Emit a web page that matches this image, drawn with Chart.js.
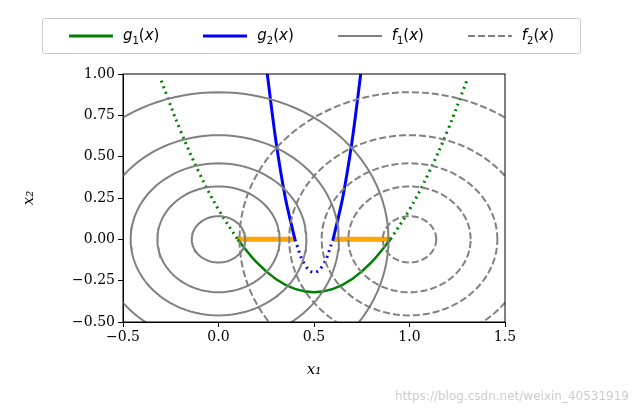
<!DOCTYPE html>
<html><head><meta charset="utf-8">
<script src="https://cdn.jsdelivr.net/npm/chart.js@4/dist/chart.umd.min.js"></script>
<style>
body{margin:0;background:#fff;width:637px;height:409px;position:relative;overflow:hidden}
#leg{position:absolute;left:42px;top:18px;width:539px;height:36px;border:1px solid #ccc;border-radius:3px;box-sizing:border-box;font-family:"DejaVu Sans";font-size:15px;display:flex;align-items:center;justify-content:space-around;padding:0 4px}
#leg>span{display:flex;align-items:center;gap:10px}
#leg sub{font-size:10px}
#wm{position:absolute;right:8px;bottom:6px;font-family:"DejaVu Sans";font-size:12px;color:#ccc}
</style></head><body>
<canvas id="c" width="637" height="409"></canvas>
<div id="leg">
<span><svg width="44" height="6"><line x1="0" y1="3" x2="44" y2="3" stroke="#008000" stroke-width="3"/></svg><span><i>g</i><sub>1</sub>(<i>x</i>)</span></span>
<span><svg width="44" height="6"><line x1="0" y1="3" x2="44" y2="3" stroke="#0000ff" stroke-width="3"/></svg><span><i>g</i><sub>2</sub>(<i>x</i>)</span></span>
<span><svg width="44" height="6"><line x1="0" y1="3" x2="44" y2="3" stroke="#808080" stroke-width="2"/></svg><span><i>f</i><sub>1</sub>(<i>x</i>)</span></span>
<span><svg width="44" height="6"><line x1="0" y1="3" x2="44" y2="3" stroke="#808080" stroke-width="2" stroke-dasharray="7,3"/></svg><span><i>f</i><sub>2</sub>(<i>x</i>)</span></span>
</div>
<div id="wm">https://blog.csdn.net/weixin_40531919</div>
<script>
const xTicks=[-0.5,0,0.5,1,1.5];
const yTicks=[-0.5,-0.25,0,0.25,0.5,0.75,1.0];
const contourRadii=[0.14,0.32,0.46,0.63,0.89];
const f1Center=[0,0], f2Center=[1,0];
const g1DotLeftX=[-0.3,-0.2,-0.1,0,0.1], g1DotLeftY=[0.96,0.66,0.40,0.18,0];
const g1SolidX=[0.1,0.2,0.3,0.4,0.5,0.6,0.7,0.8,0.9], g1SolidY=[0,-0.14,-0.24,-0.30,-0.32,-0.30,-0.24,-0.14,0];
const g1DotRightX=[0.9,1.0,1.1,1.2,1.3], g1DotRightY=[0,0.18,0.40,0.66,0.96];
const g2LeftX=[0.25,0.3,0.35,0.4], g2LeftY=[1.05,0.6,0.25,0];
const g2DotX=[0.4,0.45,0.5,0.55,0.6], g2DotY=[0,-0.15,-0.2,-0.15,0];
const g2RightX=[0.6,0.65,0.7,0.75], g2RightY=[0,0.25,0.6,1.05];
const feasible=[[0.1,0.4],[0.6,0.9]];
const pts=(xs,ys)=>xs.map((x,i)=>({x,y:ys[i]}));
function circle(c,r){const a=[];for(let i=0;i<=120;i++){const t=i/120*2*Math.PI;a.push({x:c[0]+r*Math.cos(t),y:c[1]+r*Math.sin(t)});}return a;}
const ds=[];
contourRadii.forEach(r=>ds.push({data:circle(f1Center,r),borderColor:'#808080',borderWidth:2}));
contourRadii.forEach(r=>ds.push({data:circle(f2Center,r),borderColor:'#808080',borderWidth:2,borderDash:[7,3]}));
const G='#008000',B='#0000ff';
ds.push({data:pts(g1DotLeftX,g1DotLeftY),borderColor:G,borderWidth:3,borderDash:[2,4],tension:0.4});
ds.push({data:pts(g1DotRightX,g1DotRightY),borderColor:G,borderWidth:3,borderDash:[2,4],tension:0.4});
ds.push({data:pts(g1SolidX,g1SolidY),borderColor:G,borderWidth:2.5,tension:0.4});
ds.push({data:pts(g2DotX,g2DotY),borderColor:B,borderWidth:3,borderDash:[2,4],tension:0.4});
ds.push({data:pts(g2LeftX,g2LeftY),borderColor:B,borderWidth:3,tension:0.3});
ds.push({data:pts(g2RightX,g2RightY),borderColor:B,borderWidth:3,tension:0.3});
feasible.forEach(s=>ds.push({data:[{x:s[0],y:0},{x:s[1],y:0}],borderColor:'#ffa500',borderWidth:5}));
const frame={id:'frame',afterDraw(ch){const a=ch.chartArea,c=ch.ctx;c.save();c.strokeStyle='#000';c.lineWidth=1;c.strokeRect(a.left,a.top,a.right-a.left,a.bottom-a.top);c.restore();}};
const tickFont={family:'DejaVu Serif',size:14};
new Chart(document.getElementById('c'),{type:'line',data:{datasets:ds.map(d=>Object.assign({pointRadius:0,fill:false},d))},
options:{responsive:false,animation:false,layout:{padding:{left:20,right:132,top:74,bottom:30}},
plugins:{legend:{display:false},tooltip:{enabled:false}},
scales:{
x:{type:'linear',min:-0.5,max:1.5,afterBuildTicks:s=>{s.ticks=xTicks.map(v=>({value:v}))},afterFit:s=>{s.height=57},
 grid:{drawOnChartArea:false,tickLength:5,color:'#000'},border:{color:'#000'},
 ticks:{color:'#000',font:tickFont,padding:2,callback:v=>v.toFixed(1).replace('-','\u2212')},
 title:{display:true,text:'x\u2081',color:'#000',font:{family:'DejaVu Serif',size:15,style:'italic'},padding:0}},
y:{type:'linear',min:-0.5,max:1.0,afterBuildTicks:s=>{s.ticks=yTicks.map(v=>({value:v}))},afterFit:s=>{s.width=103},
 grid:{drawOnChartArea:false,tickLength:5,color:'#000'},border:{color:'#000'},
 ticks:{color:'#000',font:tickFont,padding:3,callback:v=>v.toFixed(2).replace('-','\u2212')},
 title:{display:true,text:'x\u2082',color:'#000',font:{family:'DejaVu Serif',size:15,style:'italic'},padding:0}}}},
plugins:[frame]});
</script></body></html>
